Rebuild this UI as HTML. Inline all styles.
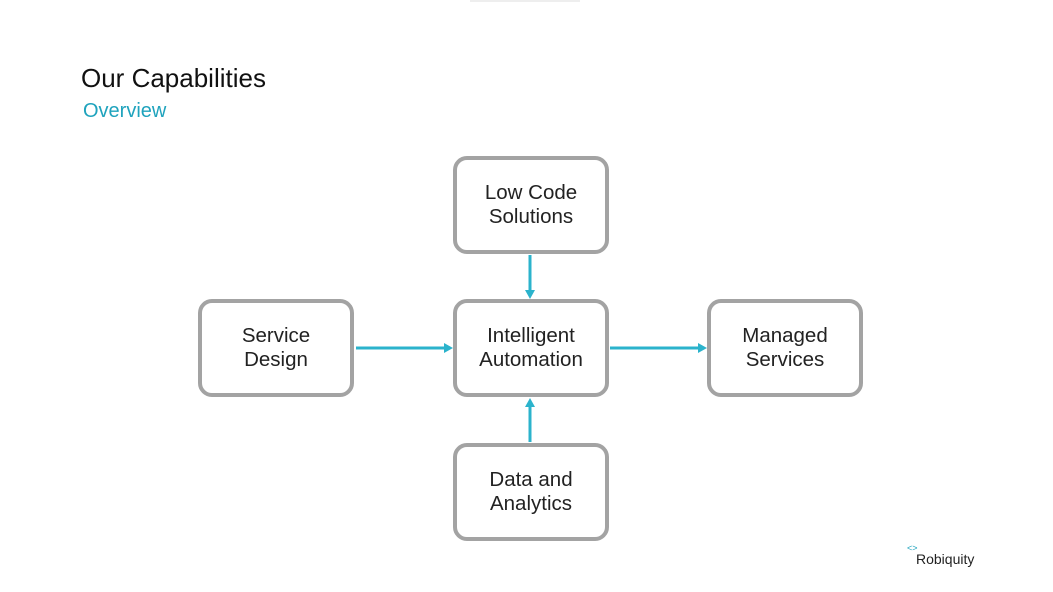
<!DOCTYPE html>
<html><head><style>
body{margin:0;width:1053px;height:592px;background:#fff;position:relative;overflow:hidden;font-family:"Liberation Sans",sans-serif}
.t{position:absolute;left:81px;top:63px;font-size:26px;color:#111}
.s{position:absolute;left:83px;top:100px;font-size:20px;color:#1fa3bd}
.b{position:absolute;width:148px;height:90px;border:4px solid #a3a3a3;border-radius:14px;box-sizing:content-box;display:flex;align-items:center;justify-content:center;text-align:center;font-size:20.5px;line-height:24px;color:#222}
</style></head><body>
<div style="position:absolute;left:470px;top:0;width:110px;height:2px;background:#eee"></div>
<div class="t">Our Capabilities</div>
<div class="s">Overview</div>
<div class="b" style="left:453px;top:156px">Low Code<br>Solutions</div>
<div class="b" style="left:453px;top:299px">Intelligent<br>Automation</div>
<div class="b" style="left:198px;top:299px">Service<br>Design</div>
<div class="b" style="left:707px;top:299px">Managed<br>Services</div>
<div class="b" style="left:453px;top:443px">Data and<br>Analytics</div>
<svg width="1053" height="592" style="position:absolute;left:0;top:0">
<g stroke="#2bb3cc" stroke-width="3" fill="#2bb3cc">
<line x1="530" y1="255" x2="530" y2="291"/><polygon points="525,290 535,290 530,299" stroke="none"/>
<line x1="356" y1="348" x2="445" y2="348"/><polygon points="444,343 444,353 453,348" stroke="none"/>
<line x1="610" y1="348" x2="699" y2="348"/><polygon points="698,343 698,353 707,348" stroke="none"/>
<line x1="530" y1="442" x2="530" y2="406"/><polygon points="525,407 535,407 530,398" stroke="none"/>
</g>
<text x="907" y="551" font-size="9" fill="#1fa3bd" font-family="Liberation Sans">&lt;&gt;</text>
<text x="916" y="564" font-size="14" fill="#222" font-family="Liberation Sans">Robiquity</text>
</svg>
</body></html>
